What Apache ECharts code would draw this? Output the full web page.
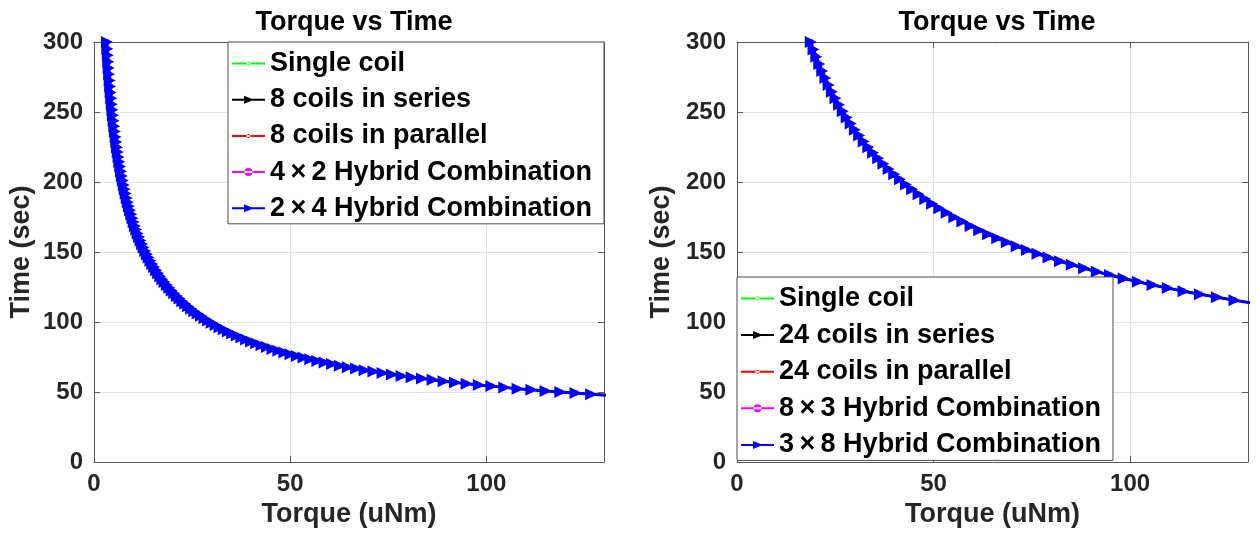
<!DOCTYPE html>
<html><head><meta charset="utf-8">
<script src="https://cdn.jsdelivr.net/npm/echarts@6/dist/echarts.min.js"></script>
<style>html,body{margin:0;padding:0;background:#fff}#c{width:1256px;height:545px}</style>
</head><body><div id="c"></div>
<script>
// ---- data ----
const leftTorque = [
3.30,3.41,3.52,3.63,3.75,3.87,4.00,4.13,4.26,4.40,
4.54,4.69,4.85,5.00,5.17,5.33,5.51,5.69,5.87,6.06,
6.26,6.46,6.67,6.89,7.11,7.34,7.58,7.83,8.08,8.35,
8.62,8.90,9.19,9.49,9.80,10.11,10.44,10.78,11.13,11.50,
11.87,12.26,12.65,13.07,13.49,13.93,14.38,14.85,15.33,15.83,
16.35,16.88,17.43,17.99,18.58,19.18,19.81,20.45,21.12,21.80,
22.51,23.24,24.00,24.78,25.58,26.41,27.27,28.16,29.08,30.02,
31.00,32.01,33.05,34.12,35.23,36.38,37.56,38.78,40.04,41.35,
42.69,44.08,45.51,46.99,48.52,50.09,51.73,53.41,55.14,56.94,
58.79,60.70,62.67,64.71,66.82,68.99,71.23,73.55,75.94,78.41,
80.96,83.59,86.31,89.12,92.02,95.00,98.10,101.29,104.58,107.98,
111.49,115.11,118.86,122.73,126.72,130.83,135.09];
const leftTime = [
300.0,295.2,290.6,285.9,281.4,276.9,272.5,268.2,264.0,259.8,
255.6,251.6,247.6,243.7,239.8,236.0,232.2,228.6,224.9,221.4,
217.8,214.4,211.0,207.6,204.3,201.1,197.9,194.8,191.7,188.6,
185.6,182.7,179.8,176.9,174.1,171.4,168.6,166.0,163.3,160.7,
158.2,155.7,153.2,150.8,148.4,146.0,143.7,141.4,139.2,137.0,
134.8,132.7,130.6,128.5,126.4,124.4,122.5,120.5,118.6,116.7,
114.9,113.0,111.3,109.5,107.7,106.0,104.4,102.7,101.1,99.5,
97.9,96.3,94.8,93.3,91.8,90.4,88.9,87.5,86.1,84.8,
83.4,82.1,80.8,79.5,78.2,77.0,75.8,74.6,73.4,72.2,
71.1,70.0,68.8,67.7,66.7,65.6,64.6,63.5,62.5,61.5,
60.6,59.6,58.7,57.7,56.8,55.9,55.0,54.2,53.3,52.4,
51.6,50.8,50.0,49.2,48.4,47.7,46.9];
const rightTorque = [
18.78,19.47,20.18,20.92,21.69,22.48,23.31,24.16,25.05,25.97,
26.92,27.91,28.93,29.99,31.09,32.23,33.41,34.63,35.90,37.22,
38.58,40.00,41.46,42.98,44.56,46.19,47.89,49.64,51.46,53.35,
55.30,57.33,59.43,61.61,63.87,66.21,68.64,71.15,73.76,76.46,
79.27,82.17,85.18,88.31,91.54,94.90,98.38,101.98,105.72,109.60,
113.61,117.78,122.10,126.57,131.21,136.02];
const rightTime = [
300.0,294.6,289.4,284.2,279.2,274.2,269.3,264.5,259.8,255.1,
250.6,246.1,241.7,237.4,233.2,229.0,224.9,220.9,217.0,213.1,
209.3,205.6,201.9,198.3,194.8,191.3,187.9,184.5,181.2,178.0,
174.8,171.7,168.6,165.6,162.7,159.8,156.9,154.1,151.4,148.7,
146.0,143.4,140.9,138.4,135.9,133.5,131.1,128.7,126.4,124.2,
122.0,119.8,117.7,115.6,113.5,111.5];
const leftNames = ['Single coil','8 coils in series','8 coils in parallel','4\u2009\u00d7\u20092 Hybrid Combination','2\u2009\u00d7\u20094 Hybrid Combination'];
const rightNames = ['Single coil','24 coils in series','24 coils in parallel','8\u2009\u00d7\u20093 Hybrid Combination','3\u2009\u00d7\u20098 Hybrid Combination'];
const titleText = 'Torque vs Time';
const xName = 'Torque (uNm)';
const yName = 'Time (sec)';
const xRange = [0, 130], xStep = 50;
const yRange = [0, 300], yStep = 50;

// ---- styling ----
const FONT = '"Liberation Sans", Arial, Helvetica, sans-serif';
const TXT = '#262626';
const AX = '#5a5a5a';
const colors = ['#00ff00', '#000000', '#ff0000', '#ff00ff', '#0000ff'];
const symbols = ['circle', 'triangle', 'circle', 'circle', 'triangle'];
const symSizes = [4, 7, 4, 6, 12];
const lineWidths = [2, 2, 2, 2, 3];
const dotIcon = 'path://M0,5H33V7H0Z M14.5,6a2,2 0 1,0 4,0a2,2 0 1,0 -4,0Z';
const circIcon = 'path://M0,5H33V7H0Z M12.5,6a4,4 0 1,0 8,0a4,4 0 1,0 -8,0Z';
const triIcon = 'path://M0,5H33V7H0Z M12,2L22,6L12,10Z';
const icons = [dotIcon, triIcon, dotIcon, circIcon, triIcon];

function zip(xs, ys) { return xs.map((x, i) => [x, ys[i]]); }

const grids = [
  { left: 94, top: 42, width: 510, height: 420 },
  { left: 737, top: 42, width: 511, height: 420 }
];

function mainX(gi) {
  return {
    type: 'value', gridIndex: gi, min: xRange[0], max: xRange[1], interval: xStep,
    name: xName, nameLocation: 'middle', nameGap: 37,
    nameTextStyle: { fontFamily: FONT, fontWeight: 'bold', fontSize: 27, color: TXT },
    axisLine: { show: true, onZero: false, lineStyle: { color: AX, width: 1 } },
    axisTick: { show: true, inside: true, length: 6, lineStyle: { color: AX } },
    axisLabel: { fontFamily: FONT, fontWeight: 'bold', fontSize: 24, color: TXT, margin: 10, showMaxLabel: false },
    splitLine: { show: true, lineStyle: { color: '#e2e2e2', width: 1 } }
  };
}
function mainY(gi, gap) {
  return {
    type: 'value', gridIndex: gi, min: yRange[0], max: yRange[1], interval: yStep,
    name: yName, nameLocation: 'middle', nameGap: gap, nameRotate: 90,
    nameTextStyle: { fontFamily: FONT, fontWeight: 'bold', fontSize: 27, color: TXT },
    axisLine: { show: true, onZero: false, lineStyle: { color: AX, width: 1 } },
    axisTick: { show: true, inside: true, length: 6, lineStyle: { color: AX } },
    axisLabel: { fontFamily: FONT, fontWeight: 'bold', fontSize: 24, color: TXT, margin: 11 },
    splitLine: { show: true, lineStyle: { color: '#e2e2e2', width: 1 } }
  };
}
function boxX(gi) {
  return { type: 'value', gridIndex: gi, position: 'top', min: xRange[0], max: xRange[1], interval: xStep,
    axisLine: { show: true, onZero: false, lineStyle: { color: AX } },
    axisTick: { show: true, inside: true, length: 6, lineStyle: { color: AX } },
    axisLabel: { show: false }, splitLine: { show: false } };
}
function boxY(gi) {
  return { type: 'value', gridIndex: gi, position: 'right', min: yRange[0], max: yRange[1], interval: yStep,
    axisLine: { show: true, onZero: false, lineStyle: { color: AX } },
    axisTick: { show: true, inside: true, length: 6, lineStyle: { color: AX } },
    axisLabel: { show: false }, splitLine: { show: false } };
}

function makeSeries(names, xs, ys, gi) {
  const data = zip(xs, ys);
  return names.map((n, i) => ({
    name: n, type: 'line', xAxisIndex: gi, yAxisIndex: gi,
    data: data, clip: true,
    symbol: symbols[i], symbolSize: symSizes[i], symbolRotate: symbols[i] === 'triangle' ? -90 : 0,
    showAllSymbol: true,
    lineStyle: { color: colors[i], width: lineWidths[i] },
    itemStyle: { color: colors[i], borderWidth: 0 },
    z: 2 + i
  }));
}

function makeLegend(names, left, top, gap) {
  return {
    orient: 'vertical', left: left, top: top,
    padding: [8, 4, 2, 4], itemGap: gap, itemWidth: 33, itemHeight: 12,
    backgroundColor: '#ffffff', borderColor: '#4d4d4d', borderWidth: 1,
    itemStyle: { borderWidth: 0 },
    textStyle: { fontFamily: FONT, fontWeight: 'bold', fontSize: 27, color: '#000', lineHeight: 26, width: 330 },
    data: names.map((n, i) => ({ name: n, icon: icons[i], itemStyle: { color: colors[i] } })),
    z: 10
  };
}

const option = {
  animation: false,
  backgroundColor: '#ffffff',
  title: [
    { text: titleText, left: 349, top: 4, textAlign: 'center',
      textStyle: { fontFamily: FONT, fontWeight: 'bold', fontSize: 27, color: '#000' } },
    { text: titleText, left: 992, top: 4, textAlign: 'center',
      textStyle: { fontFamily: FONT, fontWeight: 'bold', fontSize: 27, color: '#000' } }
  ],
  grid: grids,
  xAxis: [mainX(0), mainX(1), boxX(0), boxX(1)],
  yAxis: [mainY(0, 59), mainY(1, 62), boxY(0), boxY(1)],
  legend: [makeLegend(leftNames, 228, 42, 9.2), makeLegend(rightNames, 737, 277, 9.6)],
  series: [].concat(makeSeries(leftNames, leftTorque, leftTime, 0), makeSeries(rightNames, rightTorque, rightTime, 1))
};

const chart = echarts.init(document.getElementById('c'), null, { renderer: 'canvas' });
chart.setOption(option);
</script>
</body></html>
